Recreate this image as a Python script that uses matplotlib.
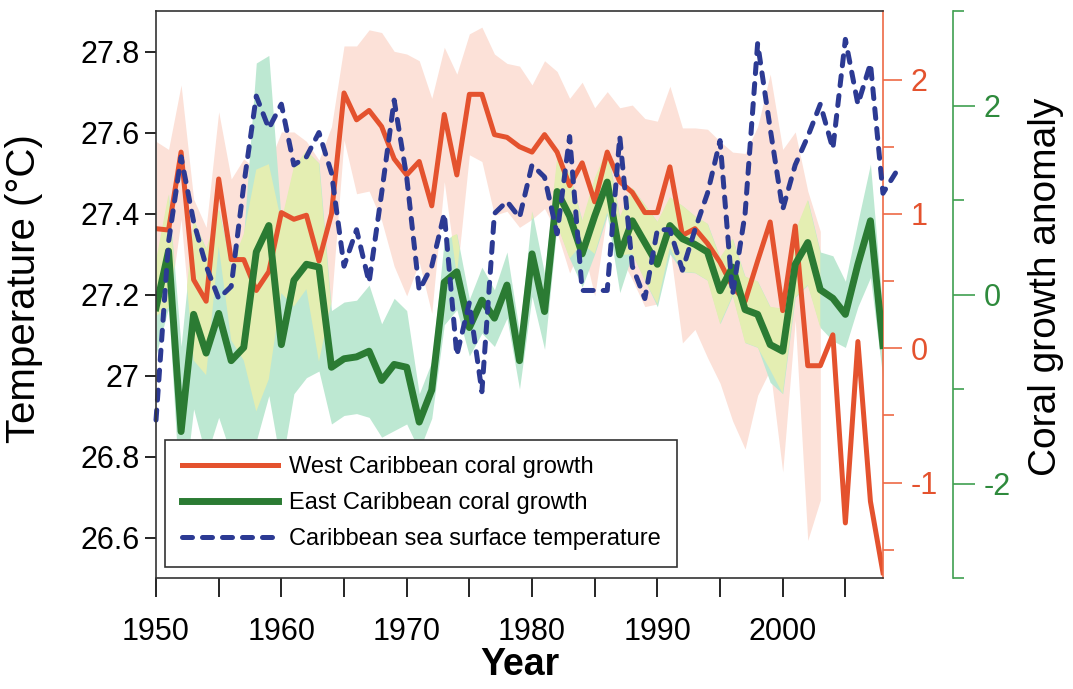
import numpy as np
import matplotlib
matplotlib.use('Agg')
import matplotlib.pyplot as plt

# Jahre / Werte
years = list(range(1950, 2009))
sst_years = list(range(1950, 2010))

west_growth = [0.89, 0.88, 1.46, 0.51, 0.35, 1.26, 0.66, 0.66, 0.43, 0.57,
               1.01, 0.96, 0.99, 0.65, 1.00, 1.90, 1.70, 1.77, 1.65, 1.41,
               1.29, 1.39, 1.06, 1.74, 1.29, 1.89, 1.89, 1.59, 1.57, 1.50,
               1.46, 1.59, 1.46, 1.21, 1.38, 1.09, 1.46, 1.24, 1.16, 1.01,
               1.01, 1.35, 0.84, 0.89, 0.78, 0.64, 0.46, 0.35, 0.65, 0.94,
               0.28, 0.91, -0.13, -0.13, 0.10, -1.30, 0.05, -1.14, -1.67]

west_unc = [0.65, 0.60, 0.50, 0.60, 0.55, 0.50, 0.60, 0.75, 0.90, 0.80,
            0.60, 0.65, 0.55, 0.75, 0.65, 0.35, 0.55, 0.60, 0.70, 0.80,
            0.90, 0.75, 0.80, 0.50, 0.75, 0.45, 0.50, 0.60, 0.55, 0.60,
            0.50, 0.55, 0.60, 0.65, 0.60, 0.70, 0.45, 0.55, 0.65, 0.70,
            0.68, 0.60, 0.80, 0.75, 0.85, 0.90, 1.00, 1.10, 1.00, 1.10,
            1.20, 0.70, 1.30, 1.00, np.nan, np.nan, np.nan, np.nan, np.nan]

east_growth = [-0.14, 0.46, -1.45, -0.21, -0.62, -0.20, -0.70, -0.56, 0.45, 0.73,
               -0.53, 0.15, 0.32, 0.29, -0.77, -0.68, -0.66, -0.60, -0.91, -0.74,
               -0.77, -1.35, -1.01, 0.13, 0.24, -0.35, -0.06, -0.25, 0.10, -0.70,
               0.43, -0.18, 1.09, 0.83, 0.43, 0.83, 1.19, 0.42, 0.78, 0.55,
               0.32, 0.73, 0.59, 0.53, 0.45, 0.04, 0.29, -0.16, -0.21, -0.53,
               -0.60, 0.32, 0.55, 0.05, -0.04, -0.21, 0.32, 0.78, -0.54]

east_unc = [0.50, 0.60, 0.90, 1.00, 1.10, 1.10, 1.00, 1.20, 2.00, 1.80,
            1.30, 1.20, 1.20, 1.10, 0.60, 0.60, 0.60, 0.70, 0.60, 0.70,
            0.60, 0.30, 0.30, 0.45, 0.40, 0.30, 0.35, 0.30, 0.35, 0.30,
            0.45, 0.40, 0.35, 0.45, 0.35, 0.40, 0.35, 0.40, 0.35, 0.40,
            0.45, 0.30, 0.35, 0.30, 0.30, 0.35, 0.30, 0.35, 0.35, 0.40,
            0.45, 0.35, 0.45, 0.40, 0.45, 0.35, 0.45, 0.60, 0.35]

sst = [26.89, 27.33, 27.54, 27.38, 27.27, 27.19, 27.22, 27.47, 27.69, 27.61,
       27.67, 27.52, 27.54, 27.60, 27.50, 27.27, 27.36, 27.23, 27.45, 27.68,
       27.49, 27.21, 27.27, 27.40, 27.05, 27.18, 26.96, 27.40, 27.43, 27.39,
       27.52, 27.49, 27.35, 27.59, 27.21, 27.21, 27.21, 27.59, 27.27, 27.19,
       27.36, 27.36, 27.26, 27.36, 27.45, 27.58, 27.20, 27.40, 27.82, 27.61,
       27.41, 27.52, 27.59, 27.67, 27.56, 27.83, 27.67, 27.77, 27.45, 27.50]

labels = ['West Caribbean coral growth', 'East Caribbean coral growth',
          'Caribbean sea surface temperature']
year_ticks = list(range(1950, 2006, 5))
year_labels = ['1950', '', '1960', '', '1970', '', '1980', '', '1990', '', '2000', '']
temp_ticks = [26.6, 26.8, 27.0, 27.2, 27.4, 27.6, 27.8]
temp_labels = ['26.6', '26.8', '27', '27.2', '27.4', '27.6', '27.8']

c_west = '#e4522e'
c_east = '#2b7b33'
c_sst = '#2c3a93'
c_west_ax = '#ee6a45'
c_east_ax = '#3f9f50'

plt.rcParams['font.family'] = ['Liberation Sans', 'DejaVu Sans']
plt.rcParams['axes.unicode_minus'] = False

fig = plt.figure(figsize=(10.73, 6.89), dpi=100)
ax = fig.add_axes([0.1454, 0.1611, 0.6775, 0.8229])
ax_o = ax.twinx()
ax_g = ax.twinx()
ax_o.set_zorder(1)
ax_g.set_zorder(2)
ax.set_zorder(3)
ax.patch.set_visible(False)

o_lim = (-1.71, 2.51)
g_lim = (-3, 3)

# Unsicherheitsbänder
w = np.array(west_growth)
wu = np.array(west_unc)
g = np.array(east_growth)
gu = np.array(east_unc)
ax_o.fill_between(years, w - wu, w + wu, color='#fce1d8', lw=0)
ax_o.fill_between(years, g - gu, g + gu, color='#bde8d2', lw=0,
                  transform=ax_g.transData)
# Überlappung (gelblich)
def to_green(v):
    return g_lim[0] + (v - o_lim[0]) * (g_lim[1] - g_lim[0]) / (o_lim[1] - o_lim[0])
lo = np.maximum(g - gu, to_green(w - wu))
hi = np.minimum(g + gu, to_green(w + wu))
ok = np.nan_to_num(hi - lo, nan=-1) > 0
ax_o.fill_between(years, lo, hi, where=ok, interpolate=True, color='#e4eeb2',
                  lw=0, transform=ax_g.transData)

l_w, = ax_o.plot(years, west_growth, color=c_west, lw=3.6, solid_joinstyle='round')
l_e, = ax_g.plot(years, east_growth, color=c_east, lw=5.0, solid_joinstyle='round')
l_s, = ax.plot(sst_years, sst, color=c_sst, lw=3.6, ls=(0, (2.0, 2.0)),
               dash_capstyle='round', clip_on=False)

ax.set_xlim(1950, 2008)
ax.set_ylim(26.5, 27.9)
ax_o.set_ylim(*o_lim)
ax_g.set_ylim(*g_lim)

# linke Achse
ax.set_xticks(year_ticks)
ax.set_xticklabels(year_labels)
ax.set_yticks(temp_ticks)
ax.set_yticklabels(temp_labels)
ax.tick_params(axis='y', direction='out', length=8, width=1.2, labelsize=22, pad=4)
ax.tick_params(axis='x', direction='out', length=14, width=1.2, labelsize=22, pad=14)
ax.spines['right'].set_visible(False)
for s in ['left', 'top', 'bottom']:
    ax.spines[s].set_color('#333333')
    ax.spines[s].set_linewidth(1.2)
ax.set_ylabel('Temperature (°C)', fontsize=29)
ax.yaxis.set_label_coords(-0.155, 0.51)
ax.set_xlabel('Year', fontsize=27, fontweight='bold')
ax.xaxis.set_label_coords(0.5, -0.122)

# rechte Achse West
for s in ['left', 'top', 'bottom']:
    ax_o.spines[s].set_visible(False)
ax_o.spines['right'].set_color(c_west_ax)
ax_o.spines['right'].set_linewidth(1.2)
ax_o.set_yticks([-1, 0, 1, 2])
ax_o.set_yticks([-1.5, -0.5, 0.5, 1.5], minor=True)
ax_o.tick_params(axis='y', which='major', length=14, width=1.2, color=c_west_ax,
                 labelcolor=c_west, labelsize=22, pad=6)
ax_o.tick_params(axis='y', which='minor', length=8, width=1.2, color=c_west_ax)

# rechte Achse Ost
for s in ['left', 'top', 'bottom']:
    ax_g.spines[s].set_visible(False)
ax_g.spines['right'].set_position(('axes', 1.0963))
ax_g.spines['right'].set_color(c_east_ax)
ax_g.spines['right'].set_linewidth(1.2)
ax_g.set_yticks([-2, 0, 2])
ax_g.set_yticks([-3, -1, 1, 3], minor=True)
ax_g.tick_params(axis='y', which='major', length=16, width=1.2, color=c_east_ax,
                 labelcolor='#2e8a3c', labelsize=22, pad=6)
ax_g.tick_params(axis='y', which='minor', length=8, width=1.2, color=c_east_ax)

fig.text(1046 / 1073, 1 - 287 / 689, 'Coral growth anomaly', rotation=90,
         ha='center', va='center', fontsize=28)

leg = ax.legend([l_w, l_e, l_s], labels, loc='lower left',
                bbox_to_anchor=(0.0124, 0.0194), borderaxespad=0,
                prop={'size': 17},
                frameon=True, fancybox=False, edgecolor='#333333', framealpha=1,
                handlelength=4.1, handletextpad=0.45, labelspacing=0.6,
                borderpad=0.7)
leg.get_frame().set_linewidth(1.2)

fig.savefig('out.png', dpi=100)
